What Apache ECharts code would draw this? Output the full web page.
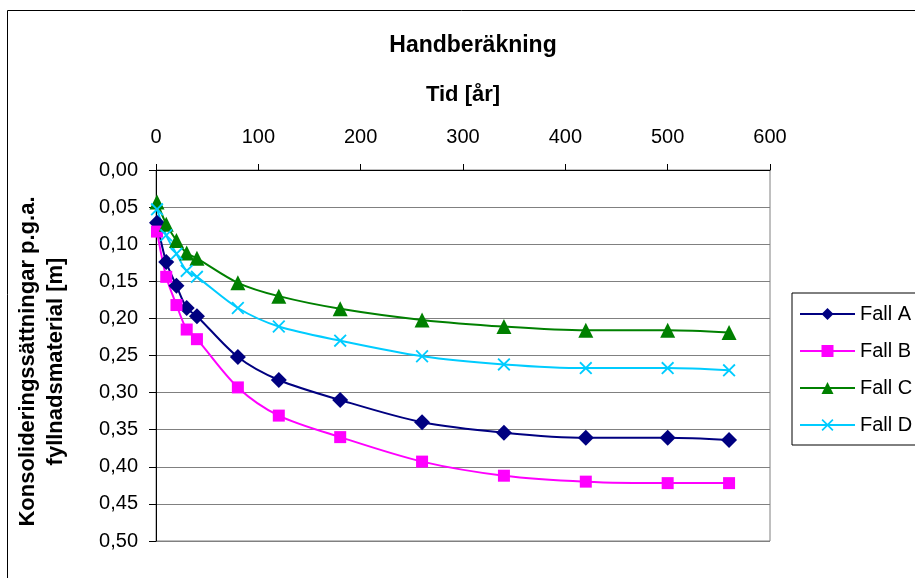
<!DOCTYPE html>
<html>
<head>
<meta charset="utf-8">
<script src="https://cdn.jsdelivr.net/npm/echarts@6/dist/echarts.min.js"></script>
<style>
html,body{margin:0;padding:0;background:#fff;}
#chart{width:915px;height:578px;}
</style>
</head>
<body>
<div id="chart"></div>
<script>
var timeYears = [1, 10, 20, 30, 40, 80, 120, 180, 260, 340, 420, 500, 560];
var fallA = [0.071, 0.124, 0.156, 0.186, 0.197, 0.252, 0.283, 0.310, 0.340, 0.354, 0.361, 0.361, 0.364];
var fallB = [0.083, 0.144, 0.182, 0.215, 0.228, 0.293, 0.331, 0.360, 0.393, 0.412, 0.420, 0.422, 0.422];
var fallC = [0.043, 0.073, 0.095, 0.112, 0.119, 0.152, 0.170, 0.187, 0.202, 0.211, 0.216, 0.216, 0.219];
var fallD = [0.053, 0.088, 0.113, 0.136, 0.144, 0.186, 0.211, 0.230, 0.251, 0.262, 0.267, 0.267, 0.270];
var seriesNames = ['Fall A', 'Fall B', 'Fall C', 'Fall D'];

var FONT = '"Liberation Sans", Arial, sans-serif';
var crossPath = 'path://M0,1 L1,0 L5,4 L9,0 L10,1 L6,5 L10,9 L9,10 L5,6 L1,10 L0,9 L4,5 Z';

function pairs(vals) {
  return timeYears.map(function (t, i) { return [t, vals[i]]; });
}
function mkSeries(name, vals, color, symbol, size) {
  return {
    name: name,
    type: 'line',
    data: pairs(vals),
    smooth: 0.3,
    symbol: symbol,
    symbolSize: size,
    showAllSymbol: true,
    lineStyle: { color: color, width: 2 },
    itemStyle: { color: color, borderWidth: 0 },
    emphasis: { disabled: true },
    animation: false
  };
}

var chart = echarts.init(document.getElementById('chart'), null, { renderer: 'canvas' });
chart.setOption({
  backgroundColor: '#ffffff',
  animation: false,
  textStyle: { fontFamily: FONT },
  title: {
    text: 'Handberäkning',
    left: 468,
    top: 29,
    textAlign: 'center',
    textStyle: { fontFamily: FONT, fontSize: 23, fontWeight: 'bold', color: '#000' }
  },
  graphic: [{
    type: 'rect',
    silent: true,
    shape: { x: 7.5, y: 10.5, width: 1000, height: 1000 },
    style: { fill: 'none', stroke: '#000', lineWidth: 1 }
  }],
  legend: {
    orient: 'vertical',
    left: 792,
    top: 293,
    data: seriesNames,
    itemWidth: 55,
    itemHeight: 15,
    itemGap: 17,
    padding: [11, 10, 10, 7],
    borderColor: '#000',
    borderWidth: 1,
    textStyle: { fontFamily: FONT, fontSize: 20, color: '#000', padding: [0, 0, 0, 0] }
  },
  grid: {
    left: 156, top: 170, width: 614, height: 371,
    show: true, borderColor: '#808080', borderWidth: 1, backgroundColor: 'transparent'
  },
  xAxis: {
    type: 'value',
    position: 'top',
    min: 0, max: 600, interval: 100,
    name: 'Tid [år]',
    nameLocation: 'middle',
    nameGap: 64,
    nameTextStyle: { fontFamily: FONT, fontSize: 22, fontWeight: 'bold', color: '#000' },
    axisLine: { show: true, onZero: false, lineStyle: { color: '#000', width: 1 } },
    axisTick: { show: true, inside: false, length: 6, lineStyle: { color: '#000' } },
    axisLabel: { fontFamily: FONT, fontSize: 20, color: '#000', margin: 23 },
    splitLine: { show: false }
  },
  yAxis: {
    type: 'value',
    inverse: true,
    min: 0, max: 0.5, interval: 0.05,
    name: 'Konsolideringssättningar p.g.a.\nfyllnadsmaterial [m]',
    nameLocation: 'middle',
    nameGap: 86,
    nameRotate: 90,
    nameTextStyle: { fontFamily: FONT, fontSize: 22, fontWeight: 'bold', color: '#000', lineHeight: 28, padding: [0, 12, 0, 0] },
    axisLine: { show: true, onZero: false, lineStyle: { color: '#000', width: 1 } },
    axisTick: { show: true, inside: false, length: 7, lineStyle: { color: '#000' } },
    axisLabel: {
      fontFamily: FONT, fontSize: 20, color: '#000', margin: 18,
      formatter: function (v) { return v.toFixed(2).replace('.', ','); }
    },
    splitLine: { show: true, lineStyle: { color: '#808080', width: 1 } }
  },
  series: [
    mkSeries('Fall A', fallA, '#000080', 'diamond', 16),
    mkSeries('Fall B', fallB, '#FF00FF', 'rect', 12),
    mkSeries('Fall C', fallC, '#008000', 'triangle', 15),
    mkSeries('Fall D', fallD, '#00CCFF', crossPath, 13)
  ]
});
</script>
</body>
</html>
